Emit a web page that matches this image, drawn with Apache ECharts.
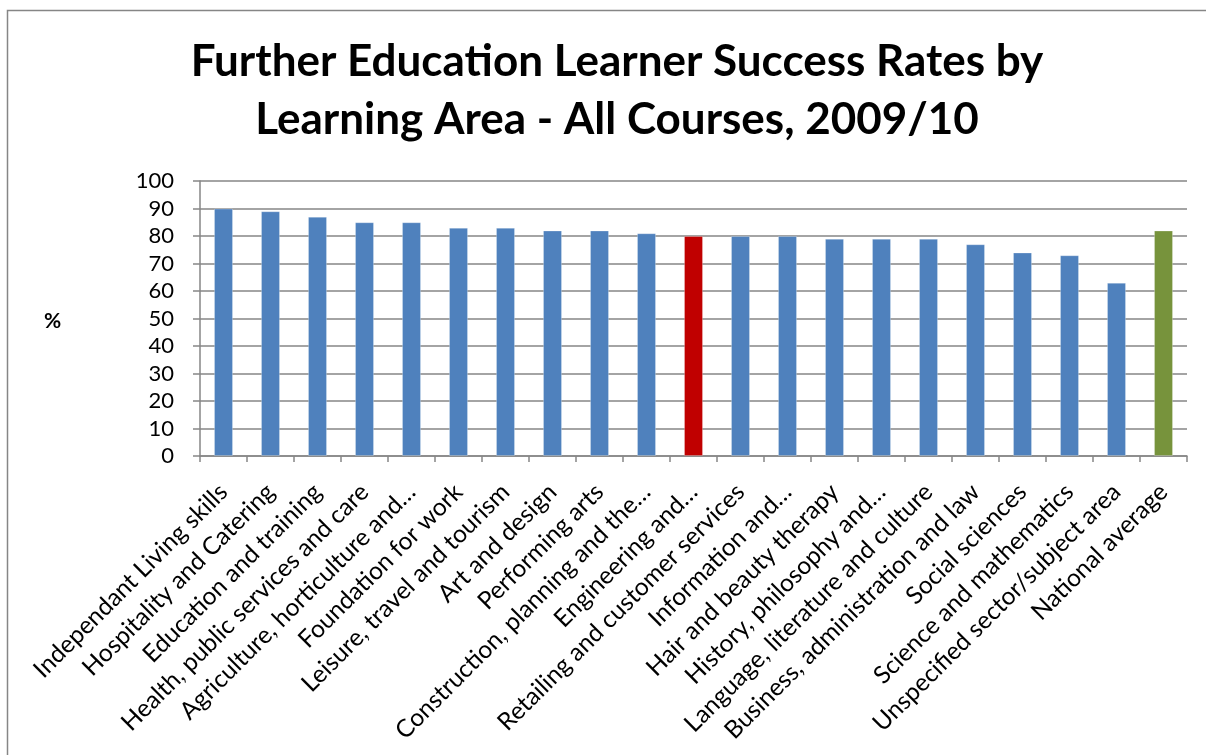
<!DOCTYPE html>
<html>
<head>
<meta charset="utf-8">
<script src="https://cdn.jsdelivr.net/npm/echarts@6/dist/echarts.min.js"></script>
<style>
  html, body { margin: 0; padding: 0; background: #fff; }
  #chart { width: 1206px; height: 755px; }
</style>
</head>
<body>
<div id="chart"></div>
<script>
// learning areas (labels truncated as in the original)
var areas = [
  'Independant Living skills',
  'Hospitality and Catering',
  'Education and training',
  'Health, public services and care',
  'Agriculture, horticulture and…',
  'Foundation for work',
  'Leisure, travel and tourism',
  'Art and design',
  'Performing arts',
  'Construction, planning and the…',
  'Engineering and…',
  'Retailing and customer services',
  'Information and…',
  'Hair and beauty therapy',
  'History, philosophy and…',
  'Language, literature and culture',
  'Business, administration and law',
  'Social sciences',
  'Science and mathematics',
  'Unspecified sector/subject area',
  'National average'
];
// success rate %
var rates = [90, 89, 87, 85, 85, 83, 83, 82, 82, 81, 80, 80, 80, 79, 79, 79, 77, 74, 73, 63, 82];
var highlightIdx = 10;   // red bar
var averageIdx = 20;     // green bar

var chart = echarts.init(document.getElementById('chart'));

var barData = rates.map(function (v, i) {
  var c = '#4F81BD';
  if (i === highlightIdx) c = '#C00000';
  if (i === averageIdx) c = '#77933C';
  return { value: v, itemStyle: { color: c } };
});

var gray = '#868686';
var font = 'Lato, "Open Sans", sans-serif';

chart.setOption({
  backgroundColor: '#fff',
  animation: false,
  title: {
    text: 'Further Education Learner Success Rates by\nLearning Area - All Courses, 2009/10',
    left: 612,
    top: 28,
    textAlign: 'center',
    textStyle: {
      fontFamily: font,
      fontWeight: 'bold',
      fontSize: 44,
      lineHeight: 58,
      color: '#000'
    }
  },
  graphic: [
    {
      type: 'rect',
      shape: { x: 7.5, y: 10.5, width: 1400, height: 1000 },
      style: { fill: 'none', stroke: gray, lineWidth: 1.5 },
      silent: true
    },
    {
      type: 'text',
      left: 44,
      top: 311,
      style: { text: '%', fontFamily: font, fontWeight: 'bold', fontSize: 21, fill: '#000' }
    }
  ],
  grid: {
    left: 200,
    right: 19,
    top: 181,
    bottom: 299
  },
  xAxis: {
    type: 'category',
    data: areas,
    axisLine: { lineStyle: { color: gray, width: 1.5 } },
    axisTick: { show: true, length: 6, lineStyle: { color: gray, width: 1.5 } },
    axisLabel: {
      interval: 0,
      rotate: 45,
      margin: 32,
      fontFamily: font,
      fontSize: 24.5,
      color: '#000'
    }
  },
  yAxis: {
    type: 'value',
    min: 0,
    max: 100,
    interval: 10,
    axisLine: { show: true, lineStyle: { color: gray, width: 1.5 } },
    axisTick: { show: true, length: 7, lineStyle: { color: gray, width: 1.5 } },
    splitLine: { lineStyle: { color: gray, width: 1.5 } },
    axisLabel: {
      margin: 26,
      fontFamily: font,
      fontSize: 22,
      color: '#000'
    }
  },
  series: [
    {
      type: 'bar',
      data: barData,
      barWidth: 19,
      itemStyle: { borderColor: 'rgba(255,255,255,0.25)', borderWidth: 1 }
    }
  ]
});
</script>
</body>
</html>
